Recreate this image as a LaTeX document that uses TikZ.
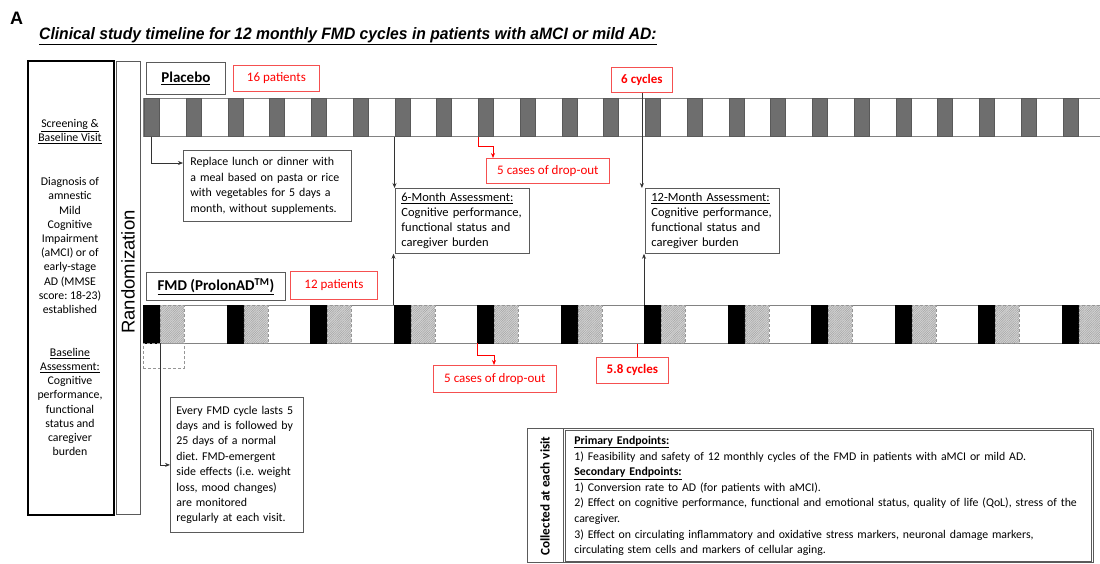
\documentclass[tikz,border=0pt]{standalone}
\usepackage{fontspec}
\setmainfont{Carlito}
\newfontfamily\arialfont{Liberation Sans}
\newfontfamily\titlefont[FakeStretch=0.95]{Liberation Sans}
\usepackage{tikz}
\usetikzlibrary{arrows.meta, positioning, calc, patterns.meta}
\definecolor{boxgray}{RGB}{90,90,90}
\definecolor{slotgray}{RGB}{110,110,110}
\definecolor{hatchgray}{RGB}{150,150,150}
\definecolor{dropred}{RGB}{255,0,0}
\definecolor{redframe}{RGB}{245,80,80}
\definecolor{bargray}{RGB}{130,130,130}
\newcommand{\bodysize}{\fontsize{11.9}{15.4}\selectfont}
\newcommand{\leftsize}{\fontsize{11.8}{14.2}\selectfont}
\frenchspacing

\begin{document}
\begin{tikzpicture}[
    x=1pt, y=-1pt,
    box/.style={draw=boxgray, line width=0.8pt, fill=white, anchor=north west, inner xsep=7pt, inner ysep=0pt, align=left, font=\bodysize},
    redbox/.style={draw=redframe, line width=0.8pt, fill=white, text=dropred, anchor=north west, inner sep=0pt, align=center, font=\fontsize{13}{15}\selectfont},
    armbox/.style={draw=boxgray, line width=0.8pt, fill=white, anchor=north west, inner sep=0pt, font=\fontsize{15}{17}\selectfont\bfseries},
    bar/.style={draw=bargray, line width=0.7pt, fill=white, anchor=north west, inner sep=0pt, minimum width=962pt, minimum height=38pt},
    slot/.style={draw=black!65, line width=0.6pt, fill=slotgray, anchor=north west, inner sep=0pt, minimum width=15pt, minimum height=38pt},
    fast/.style={draw=black, fill=black, anchor=north west, inner sep=0pt, minimum width=17pt, minimum height=38pt},
    refeed/.style={draw=hatchgray, densely dashed, line width=0.5pt, preaction={fill=gray!35}, pattern={Lines[angle=45, distance=1.6pt, line width=0.35pt]}, pattern color=gray!80, anchor=north west, inner sep=0pt, minimum width=24pt, minimum height=38pt},
    link/.style={draw=black!80, line width=0.7pt, -{Stealth[length=5pt, width=4pt]}},
    redlink/.style={draw=dropred, line width=0.7pt, -{Stealth[length=5pt, width=4pt]}}
]
    \path[use as bounding box, fill=white] (0,0) rectangle (1100,563);

    % Heading
    \node[font=\arialfont\fontsize{18}{20}\selectfont\bfseries, anchor=base west, inner sep=0pt] (panel) at (10,24) {A};
    \node[font=\titlefont\fontsize{16.5}{18}\selectfont\bfseries\itshape, anchor=base west, inner sep=0pt] (title) at (39,39) {\underline{Clinical study timeline for 12 monthly FMD cycles in patients with aMCI or mild AD:}};

    % Screening column
    \node[draw=black, line width=1.8pt, anchor=north west, minimum width=86pt, minimum height=454pt] (leftbox) at (27,60) {};
    \node[font=\leftsize, align=center] (screen) at (70,131.5) {\underline{Screening \&}\\\underline{Baseline Visit}};
    \node[font=\leftsize, align=center] (diag) at (70,245.5) {Diagnosis of\\amnestic\\Mild\\Cognitive\\Impairment\\(aMCI) or of\\early-stage\\AD (MMSE\\score: 18-23)\\established};
    \node[font=\leftsize, align=center] (baseline) at (70,402) {\underline{Baseline}\\\underline{Assessment:}\\Cognitive\\performance,\\functional\\status and\\caregiver\\burden};

    % Randomization
    \node[draw=boxgray, line width=0.8pt, anchor=north west, minimum width=24pt, minimum height=453pt] (randbox) at (116,61) {};
    \node[font=\arialfont\fontsize{18.5}{20}\selectfont, rotate=90] (rand) at (128,272) {Randomization};

    % Placebo arm
    \node[armbox, minimum width=79pt, minimum height=32pt] (placebo) at (146,62) {\underline{Placebo}};
    \node[redbox, minimum width=86pt, minimum height=26pt] (pcount) at (233,65) {16 patients};
    \node[redbox, minimum width=61pt, minimum height=25pt, font=\fontsize{13}{15}\selectfont\bfseries] (cyc6) at (611,67) {6 cycles};
    \node[bar] (pbar) at (143,98) {};
    \foreach \i in {0,...,23}
        \node[slot] (p\i) at ({144+41.75*\i},98) {};

    \node[box, minimum height=71pt, text width=154pt] (replace) at (183,150) {Replace lunch or dinner with\\a meal based on pasta or rice\\with vegetables for 5 days a\\month, without supplements.};
    \node[redbox, minimum width=123pt, minimum height=25pt] (dropa) at (486,158) {5 cases of drop-out};

    % Assessments
    \node[box, minimum height=65pt, text width=122pt, inner xsep=6pt, font=\fontsize{12.5}{15}\selectfont] (sixm) at (395,188) {\underline{6-Month Assessment:}\\Cognitive performance,\\functional status and\\caregiver burden};
    \node[box, minimum height=65pt, text width=122pt, inner xsep=6pt, font=\fontsize{12.5}{15}\selectfont] (twelvem) at (645,188) {\underline{12-Month Assessment:}\\Cognitive performance,\\functional status and\\caregiver burden};

    % FMD arm
    \node[armbox, minimum width=139pt, minimum height=28pt] (fmd) at (146,272) {\underline{FMD (ProlonAD\textsuperscript{TM})}};
    \node[redbox, minimum width=87pt, minimum height=28pt] (fcount) at (290,271) {12 patients};
    \node[bar] (fbar) at (143,305) {};
    \foreach \i in {0,...,11} {
        \node[fast] (f\i) at ({143+83.5*\i},305) {};
        \node[refeed] (h\i) at ({160+83.5*\i},305) {};
    }
    \node[draw=hatchgray, densely dashed, line width=0.6pt, anchor=north west, minimum width=41pt, minimum height=25pt] (cyclebox) at (143,343) {};

    \node[box, minimum height=135pt, text width=121pt, inner xsep=6pt] (everyfmd) at (170,397) {Every FMD cycle lasts 5\\days and is followed by\\25 days of a normal\\diet. FMD-emergent\\side effects (i.e. weight\\loss, mood changes)\\are monitored\\regularly at each visit.};
    \node[redbox, minimum width=123pt, minimum height=27pt] (dropb) at (433,365) {5 cases of drop-out};
    \node[redbox, minimum width=72pt, minimum height=26pt, font=\fontsize{13}{15}\selectfont\bfseries] (cyc58) at (596,357) {5.8 cycles};

    % Endpoints
    \node[draw=boxgray, line width=0.8pt, anchor=north west, minimum width=566pt, minimum height=134pt] (endpts) at (527,428) {};
    \node[draw=boxgray, line width=0.8pt, anchor=north west, minimum width=36pt, minimum height=134pt] (collcol) at (527,428) {};
    \node[font=\fontsize{13.2}{15}\selectfont\bfseries, rotate=90] (collected) at (545,496) {Collected at each visit};
    \node[box, minimum height=131pt, text width=508pt, inner xsep=9pt, font=\fontsize{11.8}{15.6}\selectfont] (endtext) at (565,430) {\underline{\textbf{Primary Endpoints:}}\\1) Feasibility and safety of 12 monthly cycles of the FMD in patients with aMCI or mild AD.\\\underline{\textbf{Secondary Endpoints:}}\\1) Conversion rate to AD (for patients with aMCI).\\2) Effect on cognitive performance, functional and emotional status, quality of life (QoL), stress of the\\caregiver.\\3) Effect on circulating inflammatory and oxidative stress markers, neuronal damage markers,\\circulating stem cells and markers of cellular aging.};

    % Connections
    \draw[link] (p0.south) |- ($(replace.north west)+(0,13)$);
    \draw[link] (p6.south west) -- (p6.south west |- sixm.north);
    \draw[link] (f3.north west) -- (f3.north west |- sixm.south);
    \draw[link] (cyc6.south) -- (cyc6.south |- twelvem.north);
    \draw[link] (f6.north west) -- (f6.north west |- twelvem.south);
    \draw[link] (f0.south east) |- (everyfmd.west);

    \draw[redlink] (p8.south west) -- ++(0,10) -| ($(dropa.north west)+(7,0)$);
    \draw[redlink] (f4.south west) -- ++(0,12) -| ($(dropb.north west)+(61,0)$);
    \coordinate (c58) at ($(cyc58.north)+(5,0)$);
    \draw[draw=dropred, line width=0.7pt] (c58) -- (c58 |- fbar.south);
\end{tikzpicture}
\end{document}
